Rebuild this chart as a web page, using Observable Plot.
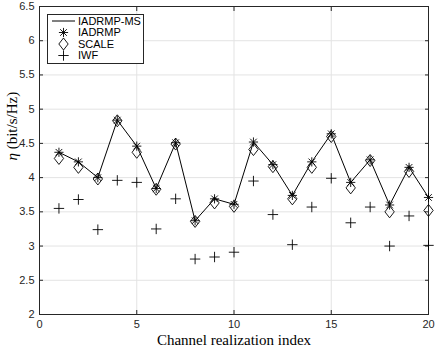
<!DOCTYPE html>
<html>
<head>
<meta charset="utf-8">
<script src="https://cdn.jsdelivr.net/npm/d3@7"></script>
<script src="https://cdn.jsdelivr.net/npm/@observablehq/plot@0.6"></script>
<style>
  html, body { margin: 0; padding: 0; background: #fff; }
  #chart { width: 436px; height: 347px; }
</style>
</head>
<body>
<div id="chart"></div>
<script>
// ---- data ----
const channelIndex = [1, 2, 3, 4, 5, 6, 7, 8, 9, 10, 11, 12, 13, 14, 15, 16, 17, 18, 19, 20];
const iadrmpMS = [4.37, 4.23, 4.00, 4.84, 4.46, 3.84, 4.51, 3.37, 3.69, 3.61, 4.52, 4.19, 3.74, 4.23, 4.64, 3.93, 4.26, 3.60, 4.15, 3.71];
const iadrmp   = [4.37, 4.23, 4.00, 4.84, 4.46, 3.84, 4.51, 3.37, 3.69, 3.61, 4.52, 4.19, 3.74, 4.23, 4.64, 3.93, 4.26, 3.60, 4.15, 3.71];
const scaleAlg = [4.28, 4.15, 3.98, 4.83, 4.37, 3.83, 4.49, 3.36, 3.63, 3.58, 4.41, 4.16, 3.69, 4.15, 4.60, 3.85, 4.25, 3.50, 4.09, 3.52];
const iwf      = [3.55, 3.68, 3.24, 3.96, 3.93, 3.25, 3.69, 2.81, 2.84, 2.91, 3.95, 3.46, 3.02, 3.57, 3.99, 3.34, 3.57, 3.00, 3.44, 3.01];
const seriesNames = ["IADRMP-MS", "IADRMP", "SCALE", "IWF"];
const xTicks = [0, 5, 10, 15, 20];
const yTicks = [2, 2.5, 3, 3.5, 4, 4.5, 5, 5.5, 6, 6.5];
const xLabel = "Channel realization index";
const yLabelSym = "η";
const yLabelUnit = " (bit/s/Hz)";

// ---- MATLAB-like marker shapes ----
const rad = (size) => Math.sqrt(size / Math.PI);
const starSym = {draw(ctx, size) {
  const r = rad(size), d = r * 0.72;
  ctx.moveTo(-r, 0); ctx.lineTo(r, 0);
  ctx.moveTo(0, -r); ctx.lineTo(0, r);
  ctx.moveTo(-d, -d); ctx.lineTo(d, d);
  ctx.moveTo(-d, d); ctx.lineTo(d, -d);
}};
const diamondSym = {draw(ctx, size) {
  const r = rad(size), w = r * 0.78;
  ctx.moveTo(0, -r); ctx.lineTo(w, 0); ctx.lineTo(0, r); ctx.lineTo(-w, 0); ctx.closePath();
}};
const plusSym = {draw(ctx, size) {
  const r = rad(size);
  ctx.moveTo(-r, 0); ctx.lineTo(r, 0);
  ctx.moveTo(0, -r); ctx.lineTo(0, r);
}};

const rows = channelIndex.map((x, i) => ({x, ms: iadrmpMS[i], ia: iadrmp[i], sc: scaleAlg[i], iw: iwf[i]}));

const axisColor = "#262626";
const gridColor = "#e3e3e3";
const sans = "'Liberation Sans', Arial, Helvetica, sans-serif";
const serif = "'Liberation Serif', 'Times New Roman', serif";

const chart = Plot.plot({
  width: 436,
  height: 347,
  marginLeft: 39,
  marginRight: 8,
  marginTop: 6,
  marginBottom: 33,
  style: {fontFamily: sans, fontSize: "11px", color: axisColor, background: "#fff"},
  x: {domain: [0, 20]},
  y: {domain: [2, 6.5]},
  marks: [
    Plot.gridX(xTicks, {stroke: gridColor, strokeOpacity: 1}),
    Plot.gridY(yTicks, {stroke: gridColor, strokeOpacity: 1}),
    // tick labels
    Plot.axisX(xTicks, {tickSize: 0, tickPadding: 6, tickFormat: d => String(d), label: null, fontSize: 11}),
    Plot.axisY(yTicks, {tickSize: 0, tickPadding: 5, tickFormat: d => String(d), label: null, fontSize: 11}),
    // inward ticks on all four sides
    Plot.axisX(xTicks, {anchor: "bottom", tickSize: 4, dy: -4, fill: "none", label: null, stroke: axisColor}),
    Plot.axisX(xTicks, {anchor: "top", tickSize: 4, dy: 4, fill: "none", label: null, stroke: axisColor}),
    Plot.axisY(yTicks, {anchor: "left", tickSize: 4, dx: 4, fill: "none", label: null, stroke: axisColor}),
    Plot.axisY(yTicks, {anchor: "right", tickSize: 4, dx: -4, fill: "none", label: null, stroke: axisColor}),
    Plot.frame({stroke: axisColor}),
    // series
    Plot.line(rows, {x: "x", y: "ms", stroke: "#000", strokeWidth: 1}),
    Plot.dot(rows, {x: "x", y: "ia", symbol: starSym, r: 4.6, stroke: "#000", fill: "none", strokeWidth: 0.9}),
    Plot.dot(rows, {x: "x", y: "sc", symbol: diamondSym, r: 6, stroke: "#000", fill: "none", strokeWidth: 0.9}),
    Plot.dot(rows, {x: "x", y: "iw", symbol: plusSym, r: 5.2, stroke: "#000", fill: "none", strokeWidth: 0.9}),
    // axis titles
    Plot.text([xLabel], {text: d => d, frameAnchor: "bottom", dy: 25.5, fontFamily: serif, fontSize: 15, fill: "#000", lineAnchor: "middle"}),
    Plot.text([yLabelSym + yLabelUnit], {text: d => d, frameAnchor: "left", dx: -27, rotate: -90, fontFamily: serif, fontSize: 15, fill: "#000", lineAnchor: "middle"})
  ]
});

document.getElementById("chart").appendChild(chart);

// italic η in the y label
const svg = d3.select(chart);
svg.selectAll("text").each(function() {
  const t = d3.select(this);
  if (t.text() === yLabelSym + yLabelUnit) {
    t.text(null);
    t.append("tspan").attr("font-style", "italic").text(yLabelSym);
    t.append("tspan").text(yLabelUnit);
  }
});

// legend box (upper left, MATLAB style)
const lg = svg.append("g").attr("font-family", sans).attr("font-size", 11).attr("text-anchor", "start");
lg.append("rect").attr("x", 47.5).attr("y", 14.5).attr("width", 96).attr("height", 49)
  .attr("fill", "#fff").attr("stroke", axisColor).attr("stroke-width", 1);
const symbols = [null, starSym, diamondSym, plusSym];
const sizes = [0, 4.6, 6, 5.2];
seriesNames.forEach((name, i) => {
  const cy = 21 + i * 11.5;
  if (i === 0) {
    lg.append("line").attr("x1", 52).attr("x2", 75).attr("y1", cy).attr("y2", cy)
      .attr("stroke", "#000").attr("stroke-width", 1);
  } else {
    lg.append("path").attr("transform", `translate(63.5,${cy})`)
      .attr("d", d3.symbol(symbols[i], Math.PI * sizes[i] * sizes[i])())
      .attr("fill", "none").attr("stroke", "#000").attr("stroke-width", 0.9);
  }
  lg.append("text").attr("x", 78).attr("y", cy).attr("dy", "0.35em")
    .attr("text-anchor", "start").attr("fill", "#000").text(name);
});
</script>
</body>
</html>
